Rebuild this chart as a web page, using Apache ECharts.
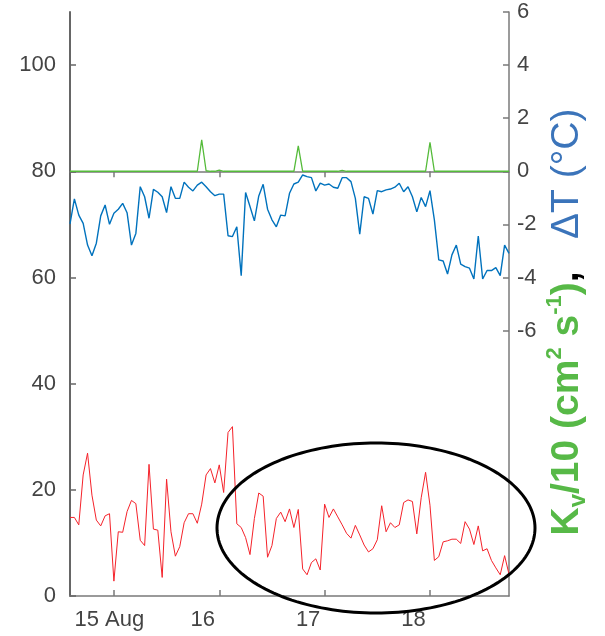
<!DOCTYPE html>
<html>
<head>
<meta charset="utf-8">
<script src="https://cdn.jsdelivr.net/npm/echarts@6/dist/echarts.min.js"></script>
<style>
  html, body { margin: 0; padding: 0; background: #fff; }
  #chart { width: 605px; height: 636px; }
</style>
</head>
<body>
<div id="chart"></div>
<script>
// Hourly samples starting 14 Aug 14:00
const startDay = 14;
const startHour = 14;
const sampleCount = 101;

// K_v / 10 (cm^2 s^-1), left axis
const kvTenth = [
  14.8, 14.8, 13.4, 22.8, 26.9, 19.0, 14.3, 13.2, 15.1, 15.5,
  2.8, 12.1, 12.0, 15.9, 18.0, 17.4, 10.5, 9.5, 24.8, 12.6,
  12.4, 3.5, 22.0, 12.1, 7.5, 9.3, 13.8, 15.5, 15.5, 13.7,
  17.3, 22.8, 24.0, 21.3, 24.7, 19.5, 30.8, 31.9, 13.6, 12.9,
  11.0, 7.8, 14.6, 19.4, 18.8, 7.3, 9.5, 14.6, 15.8, 14.0,
  16.4, 12.9, 16.3, 5.1, 4.0, 6.3, 7.0, 4.9, 17.3, 14.8,
  16.4, 14.9, 13.4, 11.8, 10.9, 13.3, 11.5, 9.6, 8.3, 8.9,
  10.6, 17.0, 12.1, 13.8, 12.9, 13.4, 17.6, 18.1, 17.8, 11.7,
  18.5, 23.3, 17.1, 6.7, 7.4, 10.2, 10.4, 10.7, 10.7, 9.9,
  14.0, 12.6, 9.7, 13.2, 8.5, 8.9, 6.7, 5.3, 4.0, 7.6,
  4.1
];

// Temperature difference ΔT (°C), right axis
const deltaT = [
  -1.98, -1.04, -1.65, -1.96, -2.78, -3.18, -2.71, -1.68, -1.27, -2.00,
  -1.58, -1.43, -1.21, -1.56, -2.78, -2.34, -0.58, -0.96, -1.77, -0.68,
  -0.79, -0.96, -1.56, -0.58, -1.02, -1.02, -0.41, -0.60, -0.74, -0.52,
  -0.41, -0.58, -0.77, -0.92, -0.86, -0.86, -2.43, -2.46, -2.09, -3.93,
  -0.80, -1.33, -1.87, -0.93, -0.49, -1.43, -1.83, -2.09, -1.65, -1.68,
  -0.83, -0.48, -0.41, -0.14, -0.20, -0.24, -0.74, -0.45, -0.52, -0.48,
  -0.60, -0.64, -0.24, -0.24, -0.39, -1.02, -2.37, -0.96, -1.02, -1.61,
  -0.73, -0.77, -0.70, -0.67, -0.60, -0.45, -0.77, -0.58, -0.96, -1.53,
  -0.99, -1.33, -0.73, -1.83, -3.34, -3.38, -3.87, -3.15, -2.78, -3.50,
  -3.59, -3.65, -4.06, -2.44, -4.06, -3.74, -3.74, -3.63, -3.93, -2.78,
  -3.09
];

// Green trace on the ΔT axis: flat with three short spikes
const greenTrace = [
  0, 0, 0, 0, 0, 0, 0, 0, 0, 0,
  0, 0, 0, 0, 0, 0, 0, 0, 0, 0,
  0, 0, 0, 0, 0, 0, 0, 0, 0, 0,
  1.18, 0.02, 0, 0, 0.04, 0, 0, 0, 0, 0,
  0, 0, 0, 0, 0, 0, 0, 0, 0, 0,
  0, 0, 0.96, 0, 0, 0, 0, 0, 0, 0,
  0, 0, 0.03, 0, 0, 0, 0, 0, 0, 0,
  0, 0, 0, 0, 0, 0, 0, 0, 0, 0,
  0, 0, 1.09, 0, 0, 0, 0, 0, 0, 0,
  0, 0, 0, 0, 0, 0, 0, 0, 0, 0,
  0
];

// Axis tick values
const leftTicks = [0, 20, 40, 60, 80, 100];
const rightTicks = [-6, -4, -2, 0, 2, 4, 6];

// Hour-by-hour category labels
const hours = [];
const dayOf = [];
const hourOf = [];
for (let i = 0; i < sampleCount; i++) {
  const h = startHour + i;
  const d = startDay + Math.floor(h / 24);
  const hh = h % 24;
  dayOf.push(d);
  hourOf.push(hh);
  hours.push(d + ' Aug ' + String(hh).padStart(2, '0') + ':00');
}
const isMidnight = (i) => hourOf[i] === 0;
const firstMidnight = hourOf.indexOf(0);
const dayLabel = (value) => {
  const idx = hours.indexOf(value);
  const d = dayOf[idx];
  return idx === firstMidnight ? '{first|' + d + ' Aug}' : '{day|' + d + '}';
};

const FONT = 'Liberation Sans, Arial, Helvetica, sans-serif';
const AXIS_GREY = '#7a7a7a';
const TEXT_GREY = '#444444';

const chart = echarts.init(document.getElementById('chart'), null, { renderer: 'canvas' });

// Ellipse outline around the second half of the record
const ellipsePts = [];
const ecx = 376, ecy = 528, erx = 159, ery = 85;
for (let k = 0; k <= 180; k++) {
  const a = (k / 180) * Math.PI * 2;
  ellipsePts.push([ecx + erx * Math.cos(a), ecy + ery * Math.sin(a)]);
}

const option = {
  animation: false,
  backgroundColor: '#ffffff',
  grid: { left: 70, right: 96, top: 12, bottom: 40, containLabel: false },
  xAxis: [
    {
      type: 'category',
      data: hours,
      boundaryGap: false,
      position: 'bottom',
      axisLine: { lineStyle: { color: AXIS_GREY, width: 1.5 } },
      axisTick: { inside: true, length: 6, interval: isMidnight, lineStyle: { color: AXIS_GREY, width: 1.5 } },
      axisLabel: {
        interval: isMidnight,
        formatter: dayLabel,
        color: TEXT_GREY,
        fontSize: 22,
        fontFamily: FONT,
        margin: 13,
        rich: {
          first: { fontSize: 22, fontFamily: FONT, color: TEXT_GREY, padding: [0, 9, 0, 0] },
          day: { fontSize: 22, fontFamily: FONT, color: TEXT_GREY, padding: [0, 33, 0, 0] }
        }
      },
      splitLine: { show: false }
    },
    {
      type: 'category',
      data: hours,
      boundaryGap: false,
      position: 'top',
      axisLine: { lineStyle: { color: AXIS_GREY, width: 1.5 } },
      axisTick: { inside: true, length: 6, interval: isMidnight, lineStyle: { color: AXIS_GREY, width: 1.5 } },
      axisLabel: { show: false },
      splitLine: { show: false }
    }
  ],
  yAxis: [
    {
      type: 'value',
      min: 0,
      max: 110,
      position: 'left',
      axisLine: { show: true, lineStyle: { color: '#666666', width: 2 } },
      axisTick: { show: true, inside: true, length: 6, customValues: leftTicks, lineStyle: { color: '#666666', width: 1.5 } },
      axisLabel: { customValues: leftTicks, color: TEXT_GREY, fontSize: 22, fontFamily: FONT, margin: 14 },
      splitLine: { show: false }
    },
    {
      type: 'value',
      min: -16,
      max: 6,
      position: 'right',
      axisLine: { show: true, lineStyle: { color: AXIS_GREY, width: 1.5 } },
      axisTick: { show: true, inside: true, length: 6, customValues: rightTicks, lineStyle: { color: AXIS_GREY, width: 1.5 } },
      axisLabel: { customValues: rightTicks, color: TEXT_GREY, fontSize: 22, fontFamily: FONT, margin: 8 },
      splitLine: { show: false }
    }
  ],
  series: [
    {
      name: 'flag',
      type: 'line',
      xAxisIndex: 0,
      yAxisIndex: 1,
      data: greenTrace,
      showSymbol: false,
      lineStyle: { color: '#55bb3a', width: 1.3 },
      z: 2
    },
    {
      name: 'ΔT',
      type: 'line',
      xAxisIndex: 0,
      yAxisIndex: 1,
      data: deltaT,
      showSymbol: false,
      lineStyle: { color: '#0072bd', width: 1.4 },
      z: 3
    },
    {
      name: 'Kv/10',
      type: 'line',
      xAxisIndex: 0,
      yAxisIndex: 0,
      data: kvTenth,
      showSymbol: false,
      lineStyle: { color: '#f5222a', width: 1 },
      z: 4
    }
  ],
  graphic: [
    {
      type: 'polygon',
      z: 100,
      shape: { points: ellipsePts },
      style: { fill: 'none', stroke: '#000000', lineWidth: 3 }
    },
    {
      type: 'text',
      z: 100,
      x: 567,
      y: 322,
      rotation: Math.PI / 2,
      style: {
        text: '{g|K}{gs|v}{g|/10 (cm}{gp|2}{g| s}{gp|-1}{g|)}{k|,}{b|   ΔT (°C)}',
        align: 'center',
        verticalAlign: 'middle',
        rich: {
          g:  { fontSize: 39, fontWeight: 'bold', fill: '#57b947', fontFamily: FONT, lineHeight: 46 },
          gs: { fontSize: 24, fontWeight: 'bold', fill: '#57b947', fontFamily: FONT, lineHeight: 46, verticalAlign: 'bottom' },
          gp: { fontSize: 22, fontWeight: 'bold', fill: '#57b947', fontFamily: FONT, lineHeight: 46, verticalAlign: 'top' },
          k:  { fontSize: 39, fontWeight: 'bold', fill: '#000000', fontFamily: FONT, lineHeight: 46 },
          b:  { fontSize: 39, fill: '#3b74ba', fontFamily: FONT, lineHeight: 46 }
        }
      }
    }
  ]
};

chart.setOption(option);
</script>
</body>
</html>
